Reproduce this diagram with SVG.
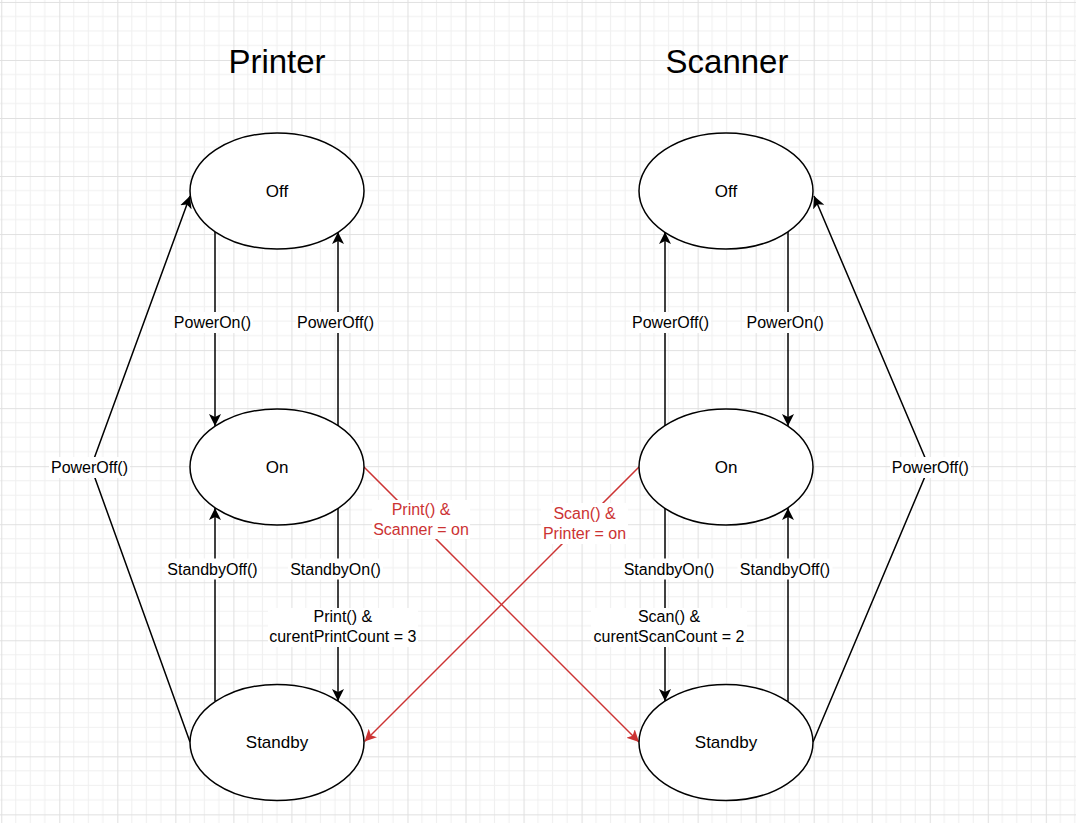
<svg xmlns="http://www.w3.org/2000/svg" width="1076" height="823" viewBox="0 0 1076 823">
  <style>
    .node ellipse { fill: #ffffff; stroke: #000000; stroke-width: 1.5; }
    .node text { font-family: "Liberation Sans", Arial, sans-serif; font-size: 17px; fill: #000000; text-anchor: middle; }
    .title { font-family: "Liberation Sans", Arial, sans-serif; font-size: 33px; fill: #000000; text-anchor: middle; }
    .edge { fill: none; stroke: #000000; stroke-width: 1.5; }
    .edge.red { stroke: #cc3333; }
    .lbl-bg { fill: #ffffff; stroke: none; }
    .lbl { font-family: "Liberation Sans", Arial, sans-serif; font-size: 16px; fill: #000000; text-anchor: middle; }
    .lbl.red { fill: #cc3333; }
  </style>
  <defs>
    <pattern id="grid" patternUnits="userSpaceOnUse" x="1.27" y="1.95" width="58.03" height="58.03">
      <rect width="58.03" height="58.03" fill="#ffffff"/>
      <path d="M14.51,0 V58.03 M29.02,0 V58.03 M43.52,0 V58.03 M0,14.51 H58.03 M0,29.02 H58.03 M0,43.52 H58.03" stroke="#f0f0f0" stroke-width="1" fill="none"/>
      <path d="M0.5,0 V58.03 M0,0.5 H58.03" stroke="#e0e0e0" stroke-width="1" fill="none"/>
    </pattern>
    <marker id="arrow" viewBox="0 0 12 12" refX="12" refY="6" markerWidth="12" markerHeight="12" markerUnits="userSpaceOnUse" orient="auto">
      <path d="M0,0 L12,6 L0,12 L3,6 Z" fill="#000000"/>
    </marker>
    <marker id="arrow-red" viewBox="0 0 12 12" refX="12" refY="6" markerWidth="12" markerHeight="12" markerUnits="userSpaceOnUse" orient="auto">
      <path d="M0,0 L12,6 L0,12 L3,6 Z" fill="#cc3333"/>
    </marker>
  </defs>

  <rect x="0" y="0" width="1076" height="823" fill="url(#grid)"/>

  <g id="titles">
    <text class="title" x="277" y="73">Printer</text>
    <text class="title" x="727" y="73">Scanner</text>
  </g>

  <g id="connectors">
    <!-- Printer -->
    <g id="e-printer-poweron">
      <path class="edge" d="M215,232 L215,426" marker-end="url(#arrow)"/>
      <rect class="lbl-bg" x="172" y="312" width="81" height="21"/>
      <text class="lbl" x="212.5" y="328">PowerOn()</text>
    </g>
    <g id="e-printer-poweroff">
      <path class="edge" d="M338,426 L338,232" marker-end="url(#arrow)"/>
      <rect class="lbl-bg" x="296" y="312" width="81" height="21"/>
      <text class="lbl" x="335.5" y="328">PowerOff()</text>
    </g>
    <g id="e-printer-standbyoff">
      <path class="edge" d="M215,701 L215,508" marker-end="url(#arrow)"/>
      <rect class="lbl-bg" x="165" y="558.5" width="95" height="21"/>
      <text class="lbl" x="212.5" y="574.5">StandbyOff()</text>
    </g>
    <g id="e-printer-standbyon">
      <path class="edge" d="M338,508 L338,701" marker-end="url(#arrow)"/>
      <rect class="lbl-bg" x="288" y="558.5" width="95" height="21"/>
      <text class="lbl" x="335.5" y="574.5">StandbyOn()</text>
      <rect class="lbl-bg" x="268" y="608" width="150" height="39"/>
      <text class="lbl" x="342.8" y="622">Print() &amp;</text>
      <text class="lbl" x="342.8" y="642">curentPrintCount = 3</text>
    </g>
    <g id="e-printer-standby-poweroff">
      <path class="edge" d="M190,742 L91,467 L190,196" marker-end="url(#arrow)"/>
      <rect class="lbl-bg" x="49" y="457" width="81" height="21"/>
      <text class="lbl" x="89.5" y="473">PowerOff()</text>
    </g>

    <!-- Scanner -->
    <g id="e-scanner-poweroff">
      <path class="edge" d="M665,426 L665,232" marker-end="url(#arrow)"/>
      <rect class="lbl-bg" x="630" y="312" width="81" height="21"/>
      <text class="lbl" x="670.5" y="328">PowerOff()</text>
    </g>
    <g id="e-scanner-poweron">
      <path class="edge" d="M788,232 L788,426" marker-end="url(#arrow)"/>
      <rect class="lbl-bg" x="745" y="312" width="81" height="21"/>
      <text class="lbl" x="785.2" y="328">PowerOn()</text>
    </g>
    <g id="e-scanner-standbyon">
      <path class="edge" d="M665,508 L665,701" marker-end="url(#arrow)"/>
      <rect class="lbl-bg" x="621.5" y="558.5" width="95" height="21"/>
      <text class="lbl" x="669" y="574.5">StandbyOn()</text>
      <rect class="lbl-bg" x="591" y="608" width="156" height="39"/>
      <text class="lbl" x="669" y="622">Scan() &amp;</text>
      <text class="lbl" x="669" y="642">curentScanCount = 2</text>
    </g>
    <g id="e-scanner-standbyoff">
      <path class="edge" d="M788,701 L788,508" marker-end="url(#arrow)"/>
      <rect class="lbl-bg" x="737.5" y="558.5" width="95" height="21"/>
      <text class="lbl" x="785" y="574.5">StandbyOff()</text>
    </g>
    <g id="e-scanner-standby-poweroff">
      <path class="edge" d="M813,742 L929,467 L814,196" marker-end="url(#arrow)"/>
      <rect class="lbl-bg" x="890" y="457" width="81" height="21"/>
      <text class="lbl" x="930.3" y="473">PowerOff()</text>
    </g>

    <!-- Cross transitions -->
    <g id="e-print-to-scanner-standby">
      <path class="edge red" d="M364,467 L639,742" marker-end="url(#arrow-red)"/>
      <rect class="lbl-bg" x="372" y="500" width="98" height="39"/>
      <text class="lbl red" x="421" y="514.5">Print() &amp;</text>
      <text class="lbl red" x="421" y="534.5">Scanner = on</text>
    </g>
    <g id="e-scan-to-printer-standby">
      <path class="edge red" d="M639,467 L364.5,741.5" marker-end="url(#arrow-red)"/>
      <rect class="lbl-bg" x="541" y="503" width="87" height="41"/>
      <text class="lbl red" x="584.5" y="518.5">Scan() &amp;</text>
      <text class="lbl red" x="584.5" y="538.5">Printer = on</text>
    </g>
  </g>

  <g id="printer-off" class="node">
    <ellipse cx="277" cy="191" rx="87" ry="58"/>
    <text x="277" y="197">Off</text>
  </g>
  <g id="printer-on" class="node">
    <ellipse cx="277" cy="467" rx="87" ry="58"/>
    <text x="277" y="473">On</text>
  </g>
  <g id="printer-standby" class="node">
    <ellipse cx="277" cy="742.5" rx="87" ry="58"/>
    <text x="277" y="748">Standby</text>
  </g>
  <g id="scanner-off" class="node">
    <ellipse cx="726" cy="191" rx="87" ry="58"/>
    <text x="726" y="197">Off</text>
  </g>
  <g id="scanner-on" class="node">
    <ellipse cx="726" cy="467" rx="87" ry="58"/>
    <text x="726" y="473">On</text>
  </g>
  <g id="scanner-standby" class="node">
    <ellipse cx="726" cy="742.5" rx="87" ry="58"/>
    <text x="726" y="748">Standby</text>
  </g>
</svg>
